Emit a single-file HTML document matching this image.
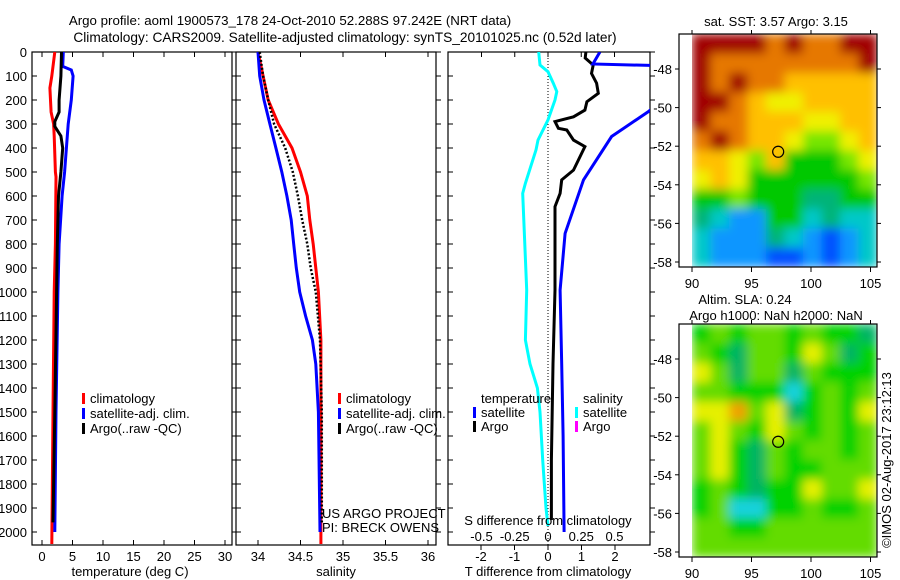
<!DOCTYPE html>
<html><head><meta charset="utf-8">
<style>
body{margin:0;background:#fff;}
svg{display:block;font-family:"Liberation Sans",sans-serif;}
text{font-size:13px;fill:#000;}
</style></head>
<body>
<svg id="chart" width="900" height="580" viewBox="0 0 900 580">
<defs>
<clipPath id="c1"><rect x="32" y="52" width="200" height="493"/></clipPath>
<clipPath id="c2"><rect x="236" y="52" width="200" height="493"/></clipPath>
<clipPath id="c3"><rect x="448" y="52" width="202" height="493"/></clipPath>
<clipPath id="m1"><rect x="692" y="34" width="185" height="233"/></clipPath>
<clipPath id="m2"><rect x="692" y="324" width="185" height="233"/></clipPath>
<filter id="blur" x="-10%" y="-10%" width="120%" height="120%"><feGaussianBlur stdDeviation="5" edgeMode="duplicate"/></filter>
</defs>
<text x="290" y="25" text-anchor="middle" style="font-size:13.3px">Argo profile: aoml 1900573_178 24-Oct-2010 52.288S 97.242E (NRT data)</text>
<text x="345" y="42" text-anchor="middle" style="font-size:13.7px">Climatology: CARS2009. Satellite-adjusted climatology: synTS_20101025.nc (0.52d later)</text>
<g id="frames"></g>
<g id="marks"></g>
<g id="maps"></g>
<g id="labels"></g>
</svg>
<script>
// ---- data ----
const depthTicks=[0,100,200,300,400,500,600,700,800,900,1000,1100,1200,1300,1400,1500,1600,1700,1800,1900,2000];
const tempTicks=[0,5,10,15,20,25,30];
const salTicks=[34,34.5,35,35.5,36];
const salTickLabels=["34","34.5","35","35.5","36"];
const tdiffTicks=[-2,-1,0,1,2];
const sdiffTicks=[-0.5,-0.25,0,0.25,0.5];
const sdiffTickLabels=["-0.5","-0.25","0","0.25","0.5"];

const tClimDepth=[0,100,150,200,250,300,350,500,520,800,1000,1500,2050];
const tClimVal=[2.1,1.6,1.3,1.4,1.5,1.9,2.0,2.2,2.3,2.2,2.0,1.8,1.6];
const tSatDepth=[0,60,75,100,200,300,400,500,600,800,1000,1500,2000];
const tSatVal=[3.5,3.4,4.8,5.1,4.8,4.3,4.0,3.7,3.3,2.8,2.6,2.3,2.1];
const tArgoDepth=[0,100,200,250,290,310,350,400,500,600,800,1000,1500,1960];
const tArgoVal=[3.2,3.1,2.8,2.8,2.1,2.1,3.1,3.4,3.1,2.7,2.5,2.4,2.1,1.8];

const sClimDepth=[0,100,200,300,400,500,600,700,800,1000,1200,2050];
const sClimVal=[34.0,34.06,34.12,34.24,34.4,34.5,34.58,34.61,34.65,34.71,34.74,34.74];
const sSatDepth=[0,100,200,300,400,500,600,700,800,900,1000,1100,1200,1300,1500,2000];
const sSatVal=[34.0,34.02,34.07,34.14,34.21,34.28,34.34,34.39,34.42,34.45,34.49,34.56,34.64,34.68,34.71,34.73];
const sArgoDepth=[0,100,200,300,400,500,600,700,800,900,1000,1200,1500,1960];
const sArgoVal=[34.02,34.06,34.12,34.19,34.32,34.41,34.47,34.52,34.58,34.62,34.68,34.73,34.75,34.75];

const dSsatDepth=[0,54,82,130,165,200,283,367,408,547,589,992,1200,1300,1400,1500,1700,1900,1975];
const dSsatVal=[-0.07,-0.06,0,0.04,0.066,0.053,0,-0.075,-0.09,-0.17,-0.19,-0.16,-0.17,-0.135,-0.08,-0.06,-0.04,-0.015,0];
const dTargoDepth=[0,25,54,89,130,172,207,242,270,290,318,325,367,394,492,533,589,644,992,1300,1700,1950];
const dTargoVal=[1.13,1.11,1.35,1.3,1.45,1.5,1.16,1.1,0.76,0.21,0.31,0.56,0.76,1.1,0.76,0.41,0.36,0.21,0.21,0.15,0.1,0.1];
const dTsatDepth=[0,50,58,150,248,352,533,756,992,1300,1600,2000];
const dTsatVal=[1.55,1.34,3.6,3.8,3.0,1.9,1.06,0.51,0.36,0.41,0.45,0.48];

const sstGrid=[
[10,10,10,10,9,10,9,9,10,10],
[10,9,9,9,9,9,9,9,9,10],
[10,9,10,9,9,8,8,8,8,8],
[10,10,9,8,7,7,8,8,8,8],
[10,9,9,8,8,8,7,7,8,8],
[9,10,9,8,8,7,6,6,7,8],
[8,8,7,6,8,5,5,5,6,7],
[7,8,7,5,5,5,5,5,5,6],
[5,5,6,5,5,5,4,4,5,5],
[4,3,2,2,5,5,3,4,3,3],
[3,2,2,2,4,3,2,1,2,3],
[3,2,2,2,1,1,2,1,2,3]];
const slaGrid=[
[2,3,2,3,3,2,3,2,2,1],
[3,2,1,3,3,2,4,3,1,2],
[4,3,1,3,3,1,3,2,2,2],
[3,3,2,2,2,0,2,3,2,3],
[4,4,5,3,4,1,2,3,2,4],
[3,4,3,2,4,3,2,3,2,3],
[3,4,2,1,3,2,3,3,2,3],
[3,4,2,1,3,2,2,3,3,3],
[2,3,2,1,2,2,4,3,3,4],
[2,3,0,0,2,2,3,2,2,3],
[3,3,2,2,3,3,3,3,3,3],
[3,3,3,3,3,3,3,3,3,3]];
const latTicks=[-48,-50,-52,-54,-56,-58];
const lonTicks=[90,95,100,105];
const argoLon=97.242, argoLat=-52.288;

// ---- scales ----
const yD=d=>52+d*0.24;
const tx=t=>42+t*6.1;
const sx=s=>258+(s-34)*85;
const dxT=t=>548+t*33.5;
const dxS=s=>548+s*133;
const lonX=l=>692+(l-90)*11.9;
const latY1=l=>69+(-48-l)*19.3;
const latY2=l=>359+(-48-l)*19.3;

const NS="http://www.w3.org/2000/svg";
function mk(tag,attrs,parent){const e=document.createElementNS(NS,tag);for(const k in attrs)e.setAttribute(k,attrs[k]);parent.appendChild(e);return e;}
const frames=document.getElementById('frames');
const marks=document.getElementById('marks');
const maps=document.getElementById('maps');
const labels=document.getElementById('labels');
function txt(x,y,s,anchor,parent,name){const t=mk('text',{x:x,y:y,'text-anchor':anchor||'middle'},parent);t.textContent=s;


return t;}

const panels=[[32,'temperature-panel'],[236,'salinity-panel'],[448,'difference-panel']];
panels.forEach(p=>{const w=p[0]===448?202:200;
const r=mk('rect',{x:p[0],y:52,width:w,height:493,fill:'none',stroke:'#000','stroke-width':1.2},frames);


depthTicks.forEach(d=>{mk('line',{x1:p[0],x2:p[0]+5,y1:yD(d),y2:yD(d),stroke:'#000'},frames);
mk('line',{x1:p[0]+w,x2:p[0]+w+5,y1:yD(d),y2:yD(d),stroke:'#000'},frames);});
});
depthTicks.forEach(d=>txt(27,yD(d)+5,String(d),'end',labels,'depth-tick-label'));
tempTicks.forEach(t=>{mk('line',{x1:tx(t),x2:tx(t),y1:52,y2:57,stroke:'#000'},frames);mk('line',{x1:tx(t),x2:tx(t),y1:540,y2:545,stroke:'#000'},frames);txt(tx(t),561,String(t),'middle',labels,'temp-tick-label');});
salTicks.forEach((s,i)=>{mk('line',{x1:sx(s),x2:sx(s),y1:52,y2:57,stroke:'#000'},frames);mk('line',{x1:sx(s),x2:sx(s),y1:540,y2:545,stroke:'#000'},frames);txt(sx(s),561,salTickLabels[i],'middle',labels,'salinity-tick-label');});
tdiffTicks.forEach(t=>{mk('line',{x1:dxT(t),x2:dxT(t),y1:545,y2:550,stroke:'#000'},frames);txt(dxT(t),561,String(t),'middle',labels,'tdiff-tick-label');});
sdiffTicks.forEach((s,i)=>{mk('line',{x1:dxS(s),x2:dxS(s),y1:52,y2:57,stroke:'#000'},frames);txt(dxS(s),541,sdiffTickLabels[i],'middle',labels,'sdiff-tick-label');});
mk('line',{x1:dxT(0),x2:dxT(0),y1:52,y2:545,stroke:'#000','stroke-dasharray':'1 2'},frames);

function line(depths,vals,fx,color,clip,name,dash){
 const pts=depths.map((d,i)=>fx(vals[i]).toFixed(1)+','+yD(d).toFixed(1)).join(' ');
 const a={points:pts,fill:'none',stroke:color,'stroke-width':3,'clip-path':'url(#'+clip+')','stroke-linejoin':'miter'};
 if(dash){a['stroke-dasharray']=dash;a['stroke-width']=2.5;}
 const e=mk('polyline',a,marks);
 
 
}
line(tClimDepth,tClimVal,tx,'#ff0000','c1','temp-climatology-line');
line(tSatDepth,tSatVal,tx,'#0000ff','c1','temp-satellite-line');
line(tArgoDepth,tArgoVal,tx,'#000000','c1','temp-argo-line');
line(sClimDepth,sClimVal,sx,'#ff0000','c2','sal-climatology-line');
line(sSatDepth,sSatVal,sx,'#0000ff','c2','sal-satellite-line');
line(sArgoDepth,sArgoVal,sx,'#000000','c2','sal-argo-line','2 2');
line(dSsatDepth,dSsatVal,dxS,'#00ffff','c3','sdiff-satellite-line');
line(dTargoDepth,dTargoVal,dxT,'#000000','c3','tdiff-argo-line');
line(dTsatDepth,dTsatVal,dxT,'#0000ff','c3','tdiff-satellite-line');

function leg(x,y,color,label,name){
 const r=mk('rect',{x:x,y:y-10,width:3,height:11,fill:color},labels);
 
 
 txt(x+8,y,label,'start',labels,name+'-label');
}
leg(82,403,'#ff0000','climatology','legend-climatology');
leg(82,418,'#0000ff','satellite-adj. clim.','legend-satellite');
leg(82,433,'#000000','Argo(..raw -QC)','legend-argo');
leg(338,403,'#ff0000','climatology','legend2-climatology');
leg(338,418,'#0000ff','satellite-adj. clim.','legend2-satellite');
leg(338,433,'#000000','Argo(..raw -QC)','legend2-argo');
txt(481,403,'temperature','start',labels,'legend-temperature-heading');
txt(583,403,'salinity','start',labels,'legend-salinity-heading');
leg(473,417,'#0000ff','satellite','legend-t-satellite');
leg(473,431,'#000000','Argo','legend-t-argo');
leg(575,417,'#00ffff','satellite','legend-s-satellite');
leg(575,431,'#ff00ff','Argo','legend-s-argo');
txt(322,518,'US ARGO PROJECT','start',labels,'project-label');
txt(322,532,'PI: BRECK OWENS','start',labels,'pi-label');
txt(548,525,'S difference from climatology','middle',labels,'sdiff-axis-title');
txt(130,576,'temperature (deg C)','middle',labels,'temp-axis-title');
txt(336,576,'salinity','middle',labels,'salinity-axis-title');
txt(548,576,'T difference from climatology','middle',labels,'tdiff-axis-title');

const sstCols=['#00008f','#0050ff','#0a96ff','#00c8c8','#00b478','#00c800','#78e600','#f0f000','#ffc000','#e67800','#a00000'];
const slaCols=['#14d2dc','#00b464','#00d200','#64dc00','#e6f000','#f0a000'];
function drawMap(grid,cols,top,latY,name,clip){
 const g=mk('g',{},maps);
 
 
 const cg=mk('g',{'clip-path':'url(#'+clip+')'},g);
 const bg=mk('g',{filter:'url(#blur)'},cg);
 const cw=(877-692)/grid[0].length, ch=233/grid.length;
 grid.forEach((row,r)=>row.forEach((v,c)=>{
  const e=mk('rect',{x:(692+c*cw).toFixed(2),y:(top+r*ch).toFixed(2),width:(cw+0.6).toFixed(2),height:(ch+0.6).toFixed(2),fill:cols[v]},bg);
  
  
 }));
 const f=mk('rect',{x:679,y:top,width:198,height:233,fill:'none',stroke:'#000','stroke-width':1.2},g);
 
 
 latTicks.forEach(l=>{mk('line',{x1:679,x2:675,y1:latY(l),y2:latY(l),stroke:'#000'},g);mk('line',{x1:877,x2:881,y1:latY(l),y2:latY(l),stroke:'#000'},g);txt(672,latY(l)+5,String(l),'end',labels,'lat-tick-label');});
 lonTicks.forEach(l=>{mk('line',{x1:lonX(l),x2:lonX(l),y1:top+233,y2:top+238,stroke:'#000'},g);mk('line',{x1:lonX(l),x2:lonX(l),y1:top,y2:top-4,stroke:'#000'},g);txt(lonX(l),top+254,String(l),'middle',labels,'lon-tick-label');});
 const c=mk('circle',{cx:lonX(argoLon),cy:latY(argoLat),r:5.5,fill:'none',stroke:'#000','stroke-width':1.2},g);
 
 
}
drawMap(sstGrid,sstCols,34,latY1,'sst-map','m1');
drawMap(slaGrid,slaCols,324,latY2,'sla-map','m2');
txt(776,26,'sat. SST: 3.57 Argo: 3.15','middle',labels,'sst-map-title');
txt(745,304,'Altim. SLA: 0.24','middle',labels,'sla-map-title');
txt(776,320,'Argo h1000: NaN h2000: NaN','middle',labels,'sla-map-subtitle');
const cr=txt(0,0,'©IMOS 02-Aug-2017 23:12:13','middle',labels,'copyright-label');
cr.setAttribute('transform','translate(891,460) rotate(-90)');
</script>
</body></html>
